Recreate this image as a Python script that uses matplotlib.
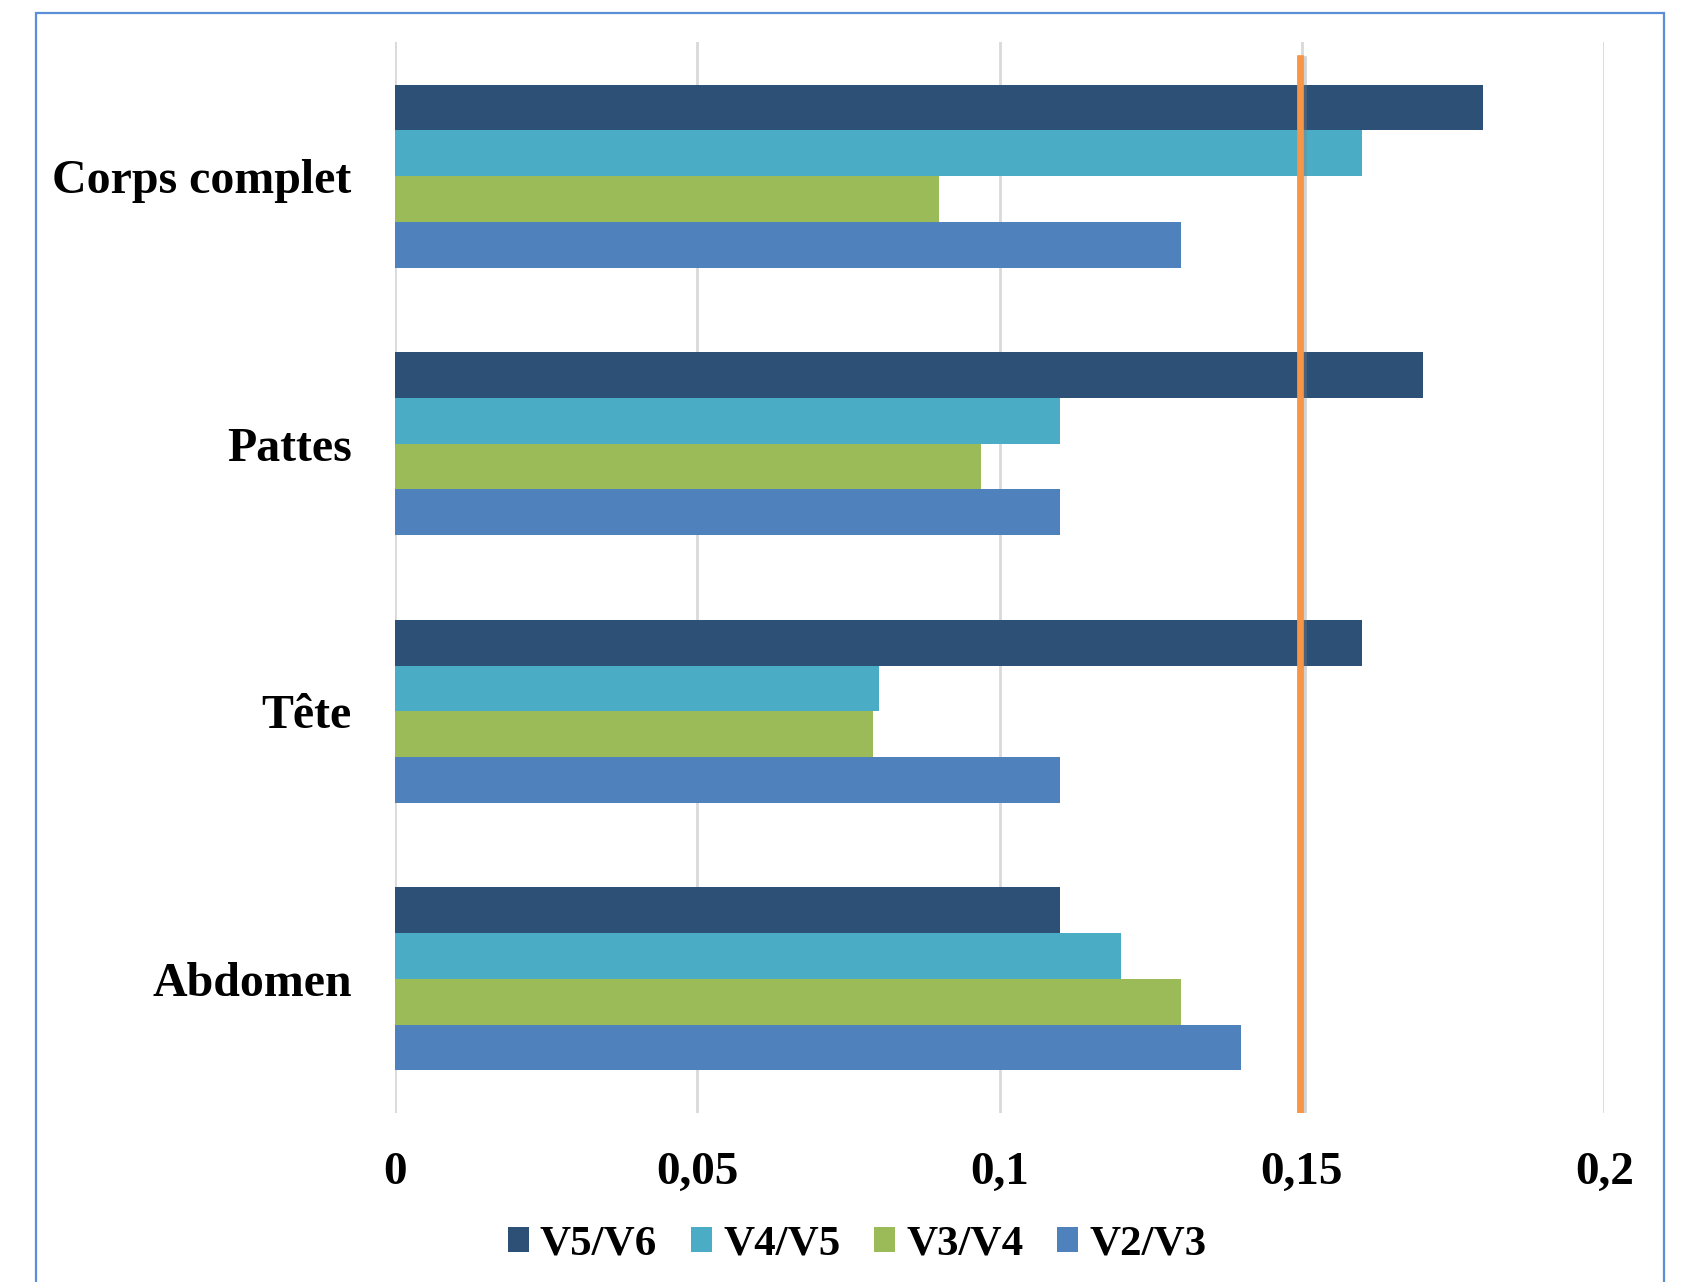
import numpy as np
import matplotlib
matplotlib.use('Agg')
import matplotlib.pyplot as plt
import matplotlib.patheffects as pe
from matplotlib.patches import Rectangle

# categories, bottom to top
categories = ['Abdomen', 'Tête', 'Pattes', 'Corps complet']
series = ['V5/V6', 'V4/V5', 'V3/V4', 'V2/V3']
v5_v6 = [0.11, 0.16, 0.17, 0.18]
v4_v5 = [0.12, 0.08, 0.11, 0.16]
v3_v4 = [0.13, 0.079, 0.097, 0.09]
v2_v3 = [0.14, 0.11, 0.11, 0.13]
seuil = 0.1497
xticks = [0, 0.05, 0.1, 0.15, 0.2]
xtick_labels = ['0', '0,05', '0,1', '0,15', '0,2']

couleurs = ['#2D5077', '#4BACC6', '#9BBB59', '#4F81BD']
valeurs = [v5_v6, v4_v5, v3_v4, v2_v3]

plt.rcParams['font.family'] = ['Liberation Serif', 'DejaVu Serif']
plt.rcParams['font.weight'] = 'bold'

fig = plt.figure(figsize=(16.87, 12.82), dpi=100)
ax = fig.add_axes([0.234, 0.132, 0.717, 0.835])

y = np.arange(len(categories))
h = 0.171
decalages = [1.5 * h, 0.5 * h, -0.5 * h, -1.5 * h]
for vals, col, dec, nom in zip(valeurs, couleurs, decalages, series):
    ax.barh(y + dec, vals, height=h, color=col, label=nom, zorder=2)

ax.set_xlim(0, 0.2)
ax.set_ylim(-0.5, len(categories) - 0.5)
ax.set_xticks(xticks)
ax.set_xticklabels(xtick_labels)
ax.set_yticks(y)
ax.set_yticklabels(categories)
ax.tick_params(axis='x', length=0, pad=28, labelsize=34)
ax.tick_params(axis='y', length=0, pad=31, labelsize=34.5)
ax.grid(axis='x', color='#D9D9D9', linewidth=2, zorder=0)
ax.set_axisbelow(True)
for s in ax.spines.values():
    s.set_visible(False)

# seuil vertical
ax.axvline(seuil, ymin=0, ymax=0.985, color='#F79646', linewidth=4.8, zorder=3,
           path_effects=[pe.SimpleLineShadow(offset=(1.5, -2), shadow_color='#808080',
                                             alpha=0.35, linewidth=7),
                         pe.Normal()])

leg = fig.legend(loc='center', bbox_to_anchor=(0.508, 0.029), ncol=4, frameon=False,
                 fontsize=31, handlelength=0.5, handleheight=0.5,
                 handletextpad=0.25, columnspacing=0.78, borderaxespad=0)

# cadre
fig.patches.append(Rectangle((0.0213, -0.02), 0.9651, 1.0099, transform=fig.transFigure,
                             fill=False, edgecolor='#5B8ED6', linewidth=1.6))

fig.savefig('out.png', dpi=100)
plt.close(fig)
